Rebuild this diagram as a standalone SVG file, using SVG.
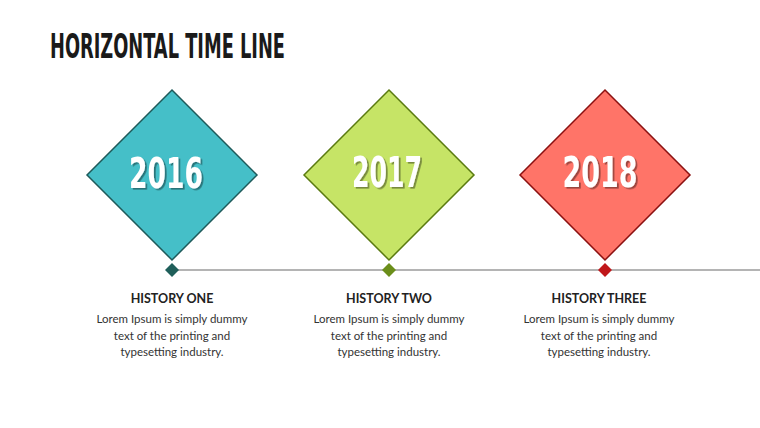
<svg xmlns="http://www.w3.org/2000/svg" width="760" height="428" viewBox="0 0 760 428">
<defs>
<filter id="ts" x="-20%" y="-20%" width="140%" height="140%">
<feDropShadow dx="1.8" dy="1.6" stdDeviation="0.6" flood-color="#000" flood-opacity="0.4"/>
</filter>
</defs>
<style>
.title{font-family:"Liberation Sans Narrow","DejaVu Sans Condensed","Liberation Sans",sans-serif;font-weight:bold;font-size:33px;fill:#1a1a1a}
.year{font-family:"Liberation Sans Narrow","DejaVu Sans Condensed","Liberation Sans",sans-serif;font-weight:bold;font-size:43px;fill:#ffffff;text-anchor:middle;filter:url(#ts)}
.head{font-family:Lato,"Liberation Sans",sans-serif;font-weight:bold;font-size:12.5px;fill:#222;text-anchor:middle}
.body{font-family:Lato,"Liberation Sans",sans-serif;font-size:11.5px;fill:#333;text-anchor:middle}
.big{stroke-width:1.5}
</style>
<rect width="760" height="428" fill="#ffffff"/>
<text class="title" x="50" y="58" textLength="235" lengthAdjust="spacingAndGlyphs">HORIZONTAL TIME LINE</text>
<g id="connectors">
<line x1="172" y1="270" x2="760" y2="270" stroke="#6b6b6b" stroke-width="1.2"/>
</g>
<g id="node-2016">
<polygon class="big" points="172,90 257,175 172,260 87,175" fill="#45BFC8" stroke="#1e5a5a"/>
<text class="year" x="166" y="188" textLength="74" lengthAdjust="spacingAndGlyphs">2016</text>
<polygon points="172,263 179,270 172,277 165,270" fill="#1f5f5a"/>
<text class="head" x="172" y="303">HISTORY ONE</text>
<text class="body" x="172" y="323">Lorem Ipsum is simply dummy</text>
<text class="body" x="172" y="340">text of the printing and</text>
<text class="body" x="172" y="356">typesetting industry.</text>
</g>
<g id="node-2017">
<polygon class="big" points="389,90 474,175 389,260 304,175" fill="#C6E466" stroke="#5a7a10"/>
<text class="year" x="387" y="187" textLength="70" lengthAdjust="spacingAndGlyphs">2017</text>
<polygon points="389,263 396,270 389,277 382,270" fill="#6b8e1a"/>
<text class="head" x="389" y="303">HISTORY TWO</text>
<text class="body" x="389" y="323">Lorem Ipsum is simply dummy</text>
<text class="body" x="389" y="340">text of the printing and</text>
<text class="body" x="389" y="356">typesetting industry.</text>
</g>
<g id="node-2018">
<polygon class="big" points="605,90 690,175 605,260 520,175" fill="#FF7468" stroke="#8b1010"/>
<text class="year" x="600" y="187" textLength="75" lengthAdjust="spacingAndGlyphs">2018</text>
<polygon points="605,263 612,270 605,277 598,270" fill="#c0171a"/>
<text class="head" x="599" y="303">HISTORY THREE</text>
<text class="body" x="599" y="323">Lorem Ipsum is simply dummy</text>
<text class="body" x="599" y="340">text of the printing and</text>
<text class="body" x="599" y="356">typesetting industry.</text>
</g>
</svg>
